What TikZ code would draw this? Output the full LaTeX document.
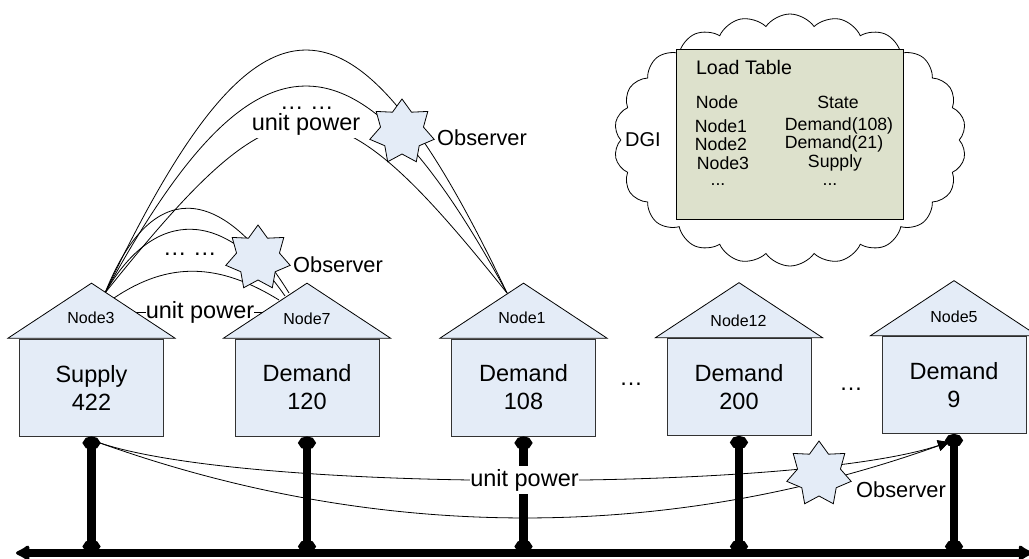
\documentclass[tikz,border=0pt]{standalone}
\usepackage{fontspec}
\setmainfont{Liberation Sans}
\usetikzlibrary{shapes.geometric, shapes.symbols, arrows.meta}
\definecolor{housefill}{RGB}{228, 236, 247}
\definecolor{tablefill}{RGB}{221, 225, 204}
\definecolor{edgegray}{RGB}{50, 50, 50}

\begin{document}
\begin{tikzpicture}[x=1pt, y=-1pt,
    body/.style={rectangle, draw=edgegray, line width=0.9pt, fill=housefill, minimum width=144pt,
                minimum height=97pt, inner sep=0pt, align=center, font=\fontsize{23.5}{28}\selectfont},
    roof/.style={isosceles triangle, isosceles triangle stretches, shape border rotate=90, draw=black,
                line width=0.8pt, fill=housefill, minimum width=167pt, minimum height=55pt, inner sep=0pt, anchor=lower side},
    nodename/.style={font=\fontsize{16}{18}\selectfont, inner sep=0pt},
    observer/.style={star, star points=7, star point ratio=1.5, draw=black, line width=0.8pt,
                fill=housefill, minimum size=66pt, inner sep=0pt},
    power/.style={fill=white, inner xsep=0pt, inner ysep=3pt, font=\fontsize{23.5}{28}\selectfont},
    watcher/.style={inner sep=0pt, font=\fontsize{21.8}{26}\selectfont},
    dots/.style={inner sep=0pt, anchor=base, font=\fontsize{23.5}{28}\selectfont},
    cell/.style={inner sep=0pt, font=\fontsize{17.7}{20}\selectfont},
    wire/.style={line width=0.8pt},
    feeder/.style={line width=8.5pt, {Circle[length=13pt,width=17pt]}-{Circle[length=13pt,width=17pt]}}]
    \useasboundingbox (0,0) rectangle (1029,558);

    % DGI cloud
    \node[cloud, cloud puffs=22, cloud puff arc=110, cloud ignores aspect, draw=black, line width=0.8pt,
          fill=white, minimum width=352pt, minimum height=252pt, inner sep=0pt] (dgi) at (790,140) {};
    \node[inner sep=0pt, font=\fontsize{20}{24}\selectfont] (dginame) at (643,140) {DGI};

    % Load table
    \node[rectangle, draw=black, line width=0.9pt, fill=tablefill, minimum width=227pt, minimum height=170pt] (table) at (789.5,134) {};
    \node[inner sep=0pt, font=\fontsize{19.6}{22}\selectfont] (title) at (744,67) {Load Table};
    \node[cell] (headnode) at (717,102) {Node};
    \node[cell] (headstate) at (838,102) {State};
    \node[cell] (row1a) at (721,126) {Node1};
    \node[cell] (row1b) at (839,126) {Demand(108)};
    \node[cell] (row2a) at (721,144) {Node2};
    \node[cell] (row2b) at (834,144) {Demand(21)};
    \node[cell] (row3a) at (723,163) {Node3};
    \node[cell] (row3b) at (835,163) {Supply};
    \node[cell, anchor=base] (row4a) at (718,185) {...};
    \node[cell, anchor=base] (row4b) at (830,185) {...};

    % Ends of the power lines
    \coordinate (out3) at (105,293);
    \coordinate (low3) at (114,298);
    \coordinate (in1) at (507,293);
    \coordinate (in7) at (289,293);
    \coordinate (mid7) at (285,296);
    \coordinate (low7) at (279,300);
    \coordinate (tie3) at (130,312.5);
    \coordinate (tie7) at (270,312.5);
    \coordinate (busl) at (16,553);
    \coordinate (busr) at (1032,553);
    \coordinate (tap3) at (100,443);
    \coordinate (tap5) at (949,442);

    % Long arcs
    \draw[wire] (out3) .. controls +(154,-324) and +(-154,-324) .. (in1);
    \draw[wire] (out3) .. controls +(150,-276) and +(-150,-276) .. (in1);
    \draw[wire] (out3) .. controls +(180,-225) and +(-180,-225) .. node[power] (power1) {unit power} (in1);
    \node[dots] (dots1) at (307,109) {… …};

    % Short arcs
    \draw[wire] (out3) .. controls +(45,-113) and +(-70,-113) .. (in7);
    \draw[wire] (out3) .. controls +(50,-87) and +(-60,-87) .. (mid7);
    \draw[wire] (low3) .. controls +(55,-37) and +(-60,-37) .. (low7);
    \draw[wire] (tie3) -- node[power] (power2) {unit power} (tie7);
    \node[dots] (dots2) at (190,255) {… …};

    % Observers
    \node[observer] (star1) at (402,132) {};
    \node[watcher] (watch1) at (482,138) {Observer};
    \node[observer] (star2) at (258,258) {};
    \node[watcher] (watch2) at (338,265) {Observer};

    % Houses
    \node[body] (node3) at (91.5,387.5) {Supply\\422};
    \node[roof] (roof3) at (node3.north) {};
    \node[nodename] (name3) at (91,318) {Node3};
    \node[body] (node7) at (307,387.5) {Demand\\120};
    \node[roof] (roof7) at (node7.north) {};
    \node[nodename] (name7) at (307,319) {Node7};
    \node[body] (node1) at (523.5,387.5) {Demand\\108};
    \node[roof] (roof1) at (node1.north) {};
    \node[nodename] (name1) at (522,318) {Node1};
    \node[body] (node12) at (739,387) {Demand\\200};
    \node[roof] (roof12) at (node12.north) {};
    \node[nodename] (name12) at (738.5,321) {Node12};
    \node[body] (node5) at (954,385) {Demand\\9};
    \node[roof] (roof5) at (node5.north) {};
    \node[nodename] (name5) at (954,317) {Node5};
    \node[dots] (gap1) at (631,385) {…};
    \node[dots] (gap2) at (851,390) {…};

    % Feeders and bus
    \draw[line width=8pt, {Latex[length=16pt,width=19pt,round]}-{Latex[length=16pt,width=19pt,round]}] (busl) -- (busr);
    \draw[feeder] (node3.south) -- (node3.south |- busl);
    \draw[feeder] (node7.south) -- (node7.south |- busl);
    \draw[feeder] (node1.south) -- (node1.south |- busl);
    \draw[feeder] (node12.south) -- (node12.south |- busl);
    \draw[feeder] (node5.south) -- (node5.south |- busl);

    % Lower power lines
    \draw[wire, -{Triangle[length=11pt,width=11pt]}] (tap3) .. controls +(150,50) and +(-150,50) .. node[power] (power3) {unit power} (tap5);
    \draw[wire, -{Triangle[length=11pt,width=11pt]}] (tap3) .. controls +(280,100) and +(-280,100) .. (tap5);
    \node[observer] (star3) at (819,474) {};
    \node[watcher] (watch3) at (901,490) {Observer};
\end{tikzpicture}
\end{document}
